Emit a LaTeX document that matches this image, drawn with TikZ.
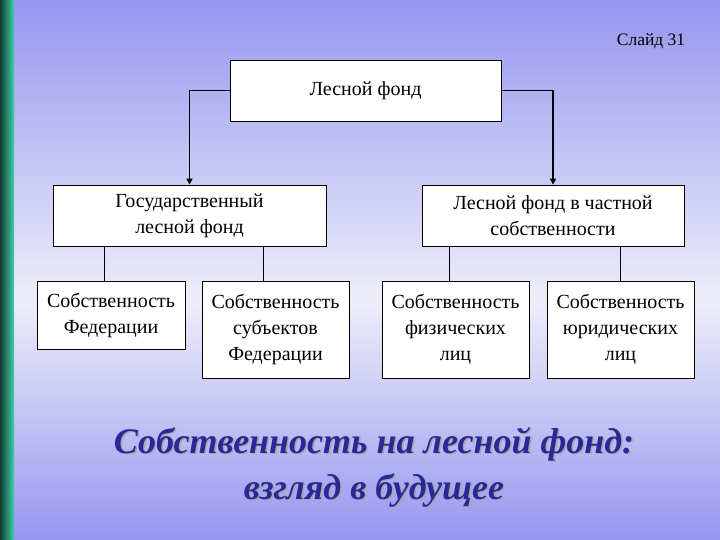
\documentclass[tikz,border=0pt]{standalone}
\usepackage{fontspec}
\setmainfont{Liberation Serif}
\usetikzlibrary{arrows.meta}
\definecolor{titleblue}{RGB}{40,40,150}
\begin{document}
\begin{tikzpicture}[x=1pt,y=-1pt,
  box/.style={draw=black,line width=0.8pt,fill=white,align=center,font=\fontsize{20}{26}\selectfont,inner sep=0pt},
  conn/.style={line width=0.6pt,draw=black},
  arr/.style={line width=1.4pt,-{Triangle[length=6pt,width=6pt]}},
  ttl/.style={align=center,font=\fontsize{36}{46}\selectfont\bfseries\itshape}]
\useasboundingbox (0,0) rectangle (720,540);
\shade[top color={rgb,255:red,150;green,150;blue,240},bottom color={rgb,255:red,238;green,238;blue,250}] (0,0) rectangle (720,300);
\shade[top color={rgb,255:red,238;green,238;blue,250},bottom color={rgb,255:red,150;green,150;blue,240}] (0,300) rectangle (720,540);
\shade[left color={rgb,255:red,20;green,60;blue,50},right color={rgb,255:red,60;green,210;blue,170}] (0,0) rectangle (14,540);
\node[font=\fontsize{17.5}{20}\selectfont] (slide) at (651,41) {Слайд 31};
\node[box,minimum width=271,minimum height=61] (top) at (365.5,90.5) {Лесной фонд};
\node[box,minimum width=273,minimum height=61] (st) at (189.5,215.5) {Государственный\\лесной фонд};
\node[box,minimum width=262,minimum height=61] (pr) at (553,215.5) {Лесной фонд в частной\\собственности};
\node[box,minimum width=148,minimum height=68] (f1) at (111,315) {Собственность\\Федерации};
\node[box,minimum width=147,minimum height=97] (f2) at (275.5,329.5) {Собственность\\субъектов\\Федерации};
\node[box,minimum width=147,minimum height=97] (f3) at (455.5,329.5) {Собственность\\физических\\лиц};
\node[box,minimum width=147,minimum height=97] (f4) at (620.5,329.5) {Собственность\\юридических\\лиц};
\draw[arr] (top.west) -| (st.north);
\draw[arr] (top.east) -| (pr.north);
\draw[conn] (f1.north) ++(-7,0) coordinate (a1) -- (a1 |- st.south);
\draw[conn] (f2.north) ++(-12,0) coordinate (a2) -- (a2 |- st.south);
\draw[conn] (f3.north) ++(-6,0) coordinate (a3) -- (a3 |- pr.south);
\draw[conn] (f4.north) coordinate (a4) -- (a4 |- pr.south);
\node[ttl,text=gray!70] (shadow) at (375.5,468.5) {Собственность на лесной фонд:\\взгляд в будущее};
\node[ttl,text=titleblue] (title) at (374,467) {Собственность на лесной фонд:\\взгляд в будущее};
\end{tikzpicture}
\end{document}
